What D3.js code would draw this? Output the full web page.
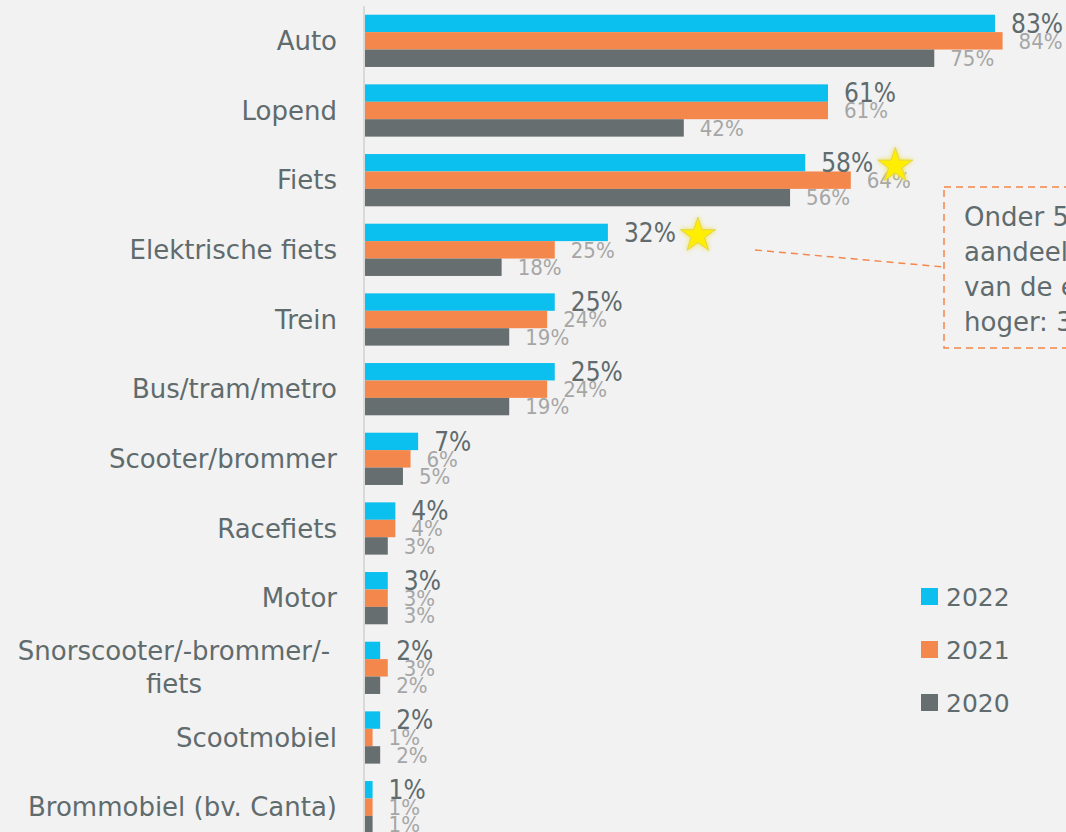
<!DOCTYPE html>
<html>
<head>
<meta charset="utf-8">
<script src="https://cdn.jsdelivr.net/npm/d3@7"></script>
<style>
  html, body { margin: 0; padding: 0; background: #f2f2f2; overflow: hidden; }
  text { font-family: "DejaVu Sans", Verdana, sans-serif; }
  .val { font-family: "DejaVu Sans Condensed", "DejaVu Sans", sans-serif; font-stretch: condensed; }
</style>
</head>
<body>
<div id="chart"></div>
<script>
const categories = ['Auto', 'Lopend', 'Fiets', 'Elektrische fiets', 'Trein', 'Bus/tram/metro',
  'Scooter/brommer', 'Racefiets', 'Motor', 'Snorscooter/-brommer/-fiets', 'Scootmobiel', 'Brommobiel (bv. Canta)'];
const years = ['2022', '2021', '2020'];
const values2022 = [83, 61, 58, 32, 25, 25, 7, 4, 3, 2, 2, 1];
const values2021 = [84, 61, 64, 25, 24, 24, 6, 4, 3, 3, 1, 1];
const values2020 = [75, 42, 56, 18, 19, 19, 5, 3, 3, 2, 2, 1];
const starred = ['Fiets', 'Elektrische fiets'];
const noteLines = ['Onder 55-plussers is het', 'aandeel gebruikers', 'van de e-fiets nog', 'hoger: 38%'];

const COLORS = {
  BG: '#f2f2f2',
  '2022': '#0bbfef',
  '2021': '#f4874b',
  '2020': '#666e70',
  TEXT: '#5f6b6d',
  LIGHT: '#a6a6a6',
  AXIS: '#d9d9d9'
};

const width = 1066, height = 832;
const series = {'2022': values2022, '2021': values2021, '2020': values2020};

const svg = d3.select('#chart').append('svg')
  .attr('width', width)
  .attr('height', height)
  .attr('viewBox', [0, 0, width, height])
  .style('background', COLORS.BG);

const x = d3.scaleLinear().domain([0, 83]).range([365, 995]);
const y = d3.scaleBand().domain(categories).range([6, 842]).paddingInner(0.25).paddingOuter(0.125);
const ySub = d3.scaleBand().domain(years).range([0, y.bandwidth()]);

// axis line
svg.append('line')
  .attr('x1', 364).attr('x2', 364)
  .attr('y1', 6).attr('y2', height)
  .attr('stroke', COLORS.AXIS)
  .attr('stroke-width', 2);

// category labels
const catLabels = svg.append('g').attr('fill', COLORS.TEXT).attr('font-size', 26);
categories.forEach(c => {
  const cy = y(c) + y.bandwidth() / 2;
  if (c.startsWith('Snorscooter')) {
    const t = catLabels.append('text').attr('text-anchor', 'middle').attr('x', 174);
    t.append('tspan').attr('x', 174).attr('y', cy - 17).attr('dy', '0.35em').text('Snorscooter/-brommer/-');
    t.append('tspan').attr('x', 174).attr('y', cy + 16).attr('dy', '0.35em').text('fiets');
  } else {
    catLabels.append('text')
      .attr('text-anchor', 'end')
      .attr('x', 337)
      .attr('y', cy)
      .attr('dy', '0.35em')
      .text(c);
  }
});

// glow filter for stars
const defs = svg.append('defs');
const glow = defs.append('filter').attr('id', 'glow').attr('x', '-50%').attr('y', '-50%').attr('width', '200%').attr('height', '200%');
glow.append('feGaussianBlur').attr('stdDeviation', 2.5).attr('result', 'blur');
const merge = glow.append('feMerge');
merge.append('feMergeNode').attr('in', 'blur');
merge.append('feMergeNode').attr('in', 'SourceGraphic');

// bars
const groups = svg.append('g').selectAll('g')
  .data(categories)
  .join('g')
  .attr('transform', d => `translate(0,${y(d)})`);

groups.selectAll('rect')
  .data((c, i) => years.map(yr => ({yr, v: series[yr][i]})))
  .join('rect')
  .attr('x', x(0))
  .attr('y', d => ySub(d.yr))
  .attr('width', d => x(d.v) - x(0))
  .attr('height', ySub.bandwidth())
  .attr('fill', d => COLORS[d.yr]);

// value labels: 2020 and 2021 first, 2022 on top
const labelOrder = ['2020', '2021', '2022'];
groups.each(function(c, i) {
  const g = d3.select(this);
  labelOrder.forEach(yr => {
    const v = series[yr][i];
    const t = g.append('text')
      .attr('class', 'val')
      .attr('x', x(v) + 16)
      .attr('y', ySub(yr) + ySub.bandwidth() / 2)
      .attr('dy', '0.35em')
      .attr('fill', yr === '2022' ? COLORS.TEXT : COLORS.LIGHT)
      .attr('font-size', yr === '2022' ? 26 : 22)
      .text(v + '%');
    if (yr === '2022' && starred.includes(c)) {
      const len = t.node().getComputedTextLength();
      g.append('path')
        .attr('d', d3.symbol(d3.symbolStar, 380)())
        .attr('transform', `translate(${x(v) + 16 + len + 22},${ySub(yr) + ySub.bandwidth() / 2 + 3})`)
        .attr('fill', '#ffee00')
        .attr('stroke', '#e0d35a')
        .attr('stroke-width', 1)
        .attr('filter', 'url(#glow)');
    }
  });
});

// annotation
const note = svg.append('g');
note.append('line')
  .attr('x1', 755).attr('y1', 250)
  .attr('x2', 944).attr('y2', 267)
  .attr('stroke', COLORS['2021'])
  .attr('stroke-width', 1.5)
  .attr('stroke-dasharray', '7,5');
note.append('rect')
  .attr('x', 944).attr('y', 187)
  .attr('width', 300).attr('height', 161)
  .attr('fill', 'none')
  .attr('stroke', COLORS['2021'])
  .attr('stroke-width', 1.5)
  .attr('stroke-dasharray', '7,5');
note.append('g')
  .attr('fill', COLORS.TEXT)
  .attr('font-size', 26)
  .selectAll('text')
  .data(noteLines)
  .join('text')
  .attr('x', 964)
  .attr('y', (d, i) => 226 + i * 35)
  .text(d => d);

// legend
const legend = svg.append('g').selectAll('g')
  .data(years)
  .join('g')
  .attr('transform', (d, i) => `translate(921,${588 + i * 53})`);
legend.append('rect')
  .attr('width', 17).attr('height', 17)
  .attr('fill', d => COLORS[d]);
legend.append('text')
  .attr('x', 25)
  .attr('y', 9)
  .attr('dy', '0.35em')
  .attr('fill', COLORS.TEXT)
  .attr('font-size', 25)
  .text(d => d);
</script>
</body>
</html>
